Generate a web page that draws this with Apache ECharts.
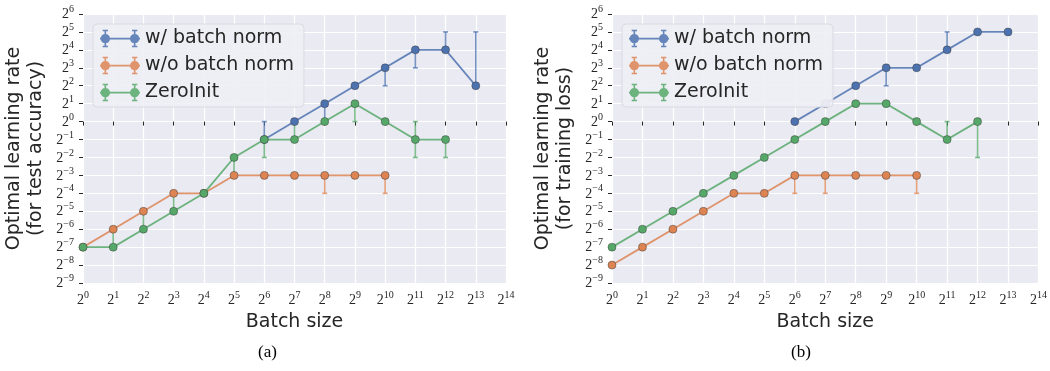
<!DOCTYPE html>
<html>
<head>
<meta charset="utf-8">
<script src="https://cdn.jsdelivr.net/npm/echarts@6/dist/echarts.min.js"></script>
<style>
  html, body { margin: 0; padding: 0; background: #fff; }
  #chart { width: 1050px; height: 371px; }
</style>
</head>
<body>
<div id="chart"></div>
<script>
// all values are base-2 exponents: batch size = 2^x, learning rate = 2^y
const seriesNames = ['w/ batch norm', 'w/o batch norm', 'ZeroInit']

// (a) test accuracy
const bnX_a = [6, 7, 8, 9, 10, 11, 12, 13]
const bnY_a = [-1, 0, 1, 2, 3, 4, 4, 2]
const noBnX_a = [0, 1, 2, 3, 4, 5, 6, 7, 8, 9, 10]
const noBnY_a = [-7, -6, -5, -4, -4, -3, -3, -3, -3, -3, -3]
const zeroX_a = [0, 1, 2, 3, 4, 5, 6, 7, 8, 9, 10, 11, 12]
const zeroY_a = [-7, -7, -6, -5, -4, -2, -1, -1, 0, 1, 0, -1, -1]
// error bars: [x, low, high]
const bnErr_a = [[6, -1, 0], [8, 0, 1], [10, 2, 3], [11, 3, 4], [12, 4, 5], [13, 2, 5]]
const noBnErr_a = [[8, -4, -3], [10, -4, -3]]
const zeroErr_a = [[1, -7, -6], [2, -6, -5], [3, -5, -4], [5, -3, -2], [6, -2, -1], [7, -1, 0], [9, 0, 1], [11, -2, 0], [12, -2, -1]]

// (b) training loss
const bnX_b = [6, 7, 8, 9, 10, 11, 12, 13]
const bnY_b = [0, 1, 2, 3, 3, 4, 5, 5]
const noBnX_b = [0, 1, 2, 3, 4, 5, 6, 7, 8, 9, 10]
const noBnY_b = [-8, -7, -6, -5, -4, -4, -3, -3, -3, -3, -3]
const zeroX_b = [0, 1, 2, 3, 4, 5, 6, 7, 8, 9, 10, 11, 12]
const zeroY_b = [-7, -6, -5, -4, -3, -2, -1, 0, 1, 1, 0, -1, 0]
const bnErr_b = [[9, 2, 3], [11, 4, 5]]
const noBnErr_b = [[6, -4, -3], [7, -4, -3], [10, -4, -3]]
const zeroErr_b = [[11, -1, 0], [12, -2, 0]]

const colors = ['#4C72B0', '#DD8452', '#55A868']
const textColor = '#262626'

const zip = (xs, ys) => xs.map((x, i) => [x, ys[i]])

const powLabel = v => `{b|2}{s|${v < 0 ? '\u2212' + (-v) : v}}`
const powRich = {
  b: { fontFamily: 'Liberation Serif', fontSize: 14, color: textColor, lineHeight: 15, verticalAlign: 'bottom' },
  s: { fontFamily: 'Liberation Serif', fontSize: 10, color: textColor, lineHeight: 10, verticalAlign: 'top', padding: [-2, 0, 0, 0] }
}

// legend icon: line with two markers carrying error bars
const legendIcon = 'path://' +
  'M0 14 h60 v2.4 h-60 z ' +
  'M6.8 2 h2.4 v26 h-2.4 z M50.8 2 h2.4 v26 h-2.4 z ' +
  'M4 2 h8 v2 h-8 z M4 26 h8 v2 h-8 z M48 2 h8 v2 h-8 z M48 26 h8 v2 h-8 z ' +
  'M1 15.2 a7 7 0 1 1 14 0 a7 7 0 1 1 -14 0 z ' +
  'M45 15.2 a7 7 0 1 1 14 0 a7 7 0 1 1 -14 0 z'

const renderErr = color => (params, api) => {
  const top = api.coord([api.value(0), api.value(2)])
  const bot = api.coord([api.value(0), api.value(1)])
  const style = { stroke: color, lineWidth: 1.6, opacity: 0.75 }
  return {
    type: 'group',
    children: [
      { type: 'line', shape: { x1: top[0], y1: top[1], x2: bot[0], y2: bot[1] }, style },
      { type: 'line', shape: { x1: top[0] - 2.5, y1: top[1], x2: top[0] + 2.5, y2: top[1] }, style },
      { type: 'line', shape: { x1: bot[0] - 2.5, y1: bot[1], x2: bot[0] + 2.5, y2: bot[1] }, style }
    ]
  }
}

const makeAxes = (idx, yName) => {
  const xAxis = {
    type: 'value', gridIndex: idx, min: 0, max: 14, interval: 1,
    name: 'Batch size', nameLocation: 'middle', nameGap: 30,
    nameTextStyle: { fontFamily: 'DejaVu Sans', fontSize: 19, color: textColor },
    axisLine: { show: false },
    axisTick: { show: true, length: 4, lineStyle: { color: textColor } },
    axisLabel: { formatter: powLabel, rich: powRich, margin: 9, showMinLabel: true, showMaxLabel: true, hideOverlap: false },
    splitLine: { show: true, lineStyle: { color: '#ffffff', width: 1.2 } }
  }
  const yAxis = {
    type: 'value', gridIndex: idx, min: -9, max: 6, interval: 1,
    name: yName, nameLocation: 'middle', nameGap: 36, nameRotate: 90,
    nameTextStyle: { fontFamily: 'DejaVu Sans', fontSize: 19, color: textColor, lineHeight: 22 },
    axisLine: { show: false },
    axisTick: { show: true, length: 4, lineStyle: { color: textColor } },
    axisLabel: { formatter: powLabel, rich: powRich, margin: 9, showMinLabel: true, showMaxLabel: true, hideOverlap: false },
    splitLine: { show: true, lineStyle: { color: '#ffffff', width: 1.2 } }
  }
  return [xAxis, yAxis]
}

const lineSeries = (name, data, color, idx, z) => ({
  name, type: 'line', xAxisIndex: idx, yAxisIndex: idx, data,
  symbol: 'circle', symbolSize: 8, z,
  lineStyle: { color, width: 1.8, opacity: 0.85 },
  itemStyle: { color, borderColor: 'rgba(60,60,60,0.8)', borderWidth: 0.6 },
  emphasis: { disabled: true }
})

const errSeries = (name, data, color, idx) => ({
  name, type: 'custom', xAxisIndex: idx, yAxisIndex: idx, data,
  encode: { x: 0, y: [1, 2] }, z: 1,
  renderItem: renderErr(color)
})

const legendFor = (left) => ({
  data: seriesNames, orient: 'vertical', left, top: 24,
  icon: legendIcon, itemWidth: 40, itemHeight: 20, itemGap: 8, itemTextGap: 16,
  itemStyle: { borderWidth: 0, opacity: 0.85 },
  lineStyle: { width: 0 },
  textStyle: { fontFamily: 'DejaVu Sans', fontSize: 19, color: textColor },
  backgroundColor: 'rgba(238,238,245,0.9)', borderColor: '#dadae2', borderWidth: 1, borderRadius: 4,
  padding: [5, 10, 5, 7]
})

const [xa, ya] = makeAxes(0, 'Optimal learning rate\n(for test accuracy)')
const [xb, yb] = makeAxes(1, 'Optimal learning rate\n(for training loss)')

// the w/ batch norm point at 2^7 in (b) is drawn faded
const bnData_b = zip(bnX_b, bnY_b).map(p => p[0] === 7
  ? { value: p, itemStyle: { color: '#a9bad8' } } : p)

const option = {
  animation: false,
  color: colors,
  grid: [
    { left: 83, right: 544, top: 14, bottom: 88, show: true, backgroundColor: '#EAEAF2', borderWidth: 0 },
    { left: 612, right: 10, top: 14, bottom: 88, show: true, backgroundColor: '#EAEAF2', borderWidth: 0 }
  ],
  xAxis: [xa, xb],
  yAxis: [ya, yb],
  legend: [legendFor(93), legendFor(622)],
  graphic: [
    { type: 'text', left: 258, top: 344, style: { text: '(a)', fontFamily: 'Liberation Serif', fontSize: 17, fill: '#000' } },
    { type: 'text', left: 791, top: 344, style: { text: '(b)', fontFamily: 'Liberation Serif', fontSize: 17, fill: '#000' } }
  ],
  series: [
    errSeries('bn-err-a', bnErr_a, colors[0], 0),
    errSeries('nobn-err-a', noBnErr_a, colors[1], 0),
    errSeries('zero-err-a', zeroErr_a, colors[2], 0),
    lineSeries(seriesNames[0], zip(bnX_a, bnY_a), colors[0], 0, 3),
    lineSeries(seriesNames[1], zip(noBnX_a, noBnY_a), colors[1], 0, 4),
    lineSeries(seriesNames[2], zip(zeroX_a, zeroY_a), colors[2], 0, 5),
    errSeries('bn-err-b', bnErr_b, colors[0], 1),
    errSeries('nobn-err-b', noBnErr_b, colors[1], 1),
    errSeries('zero-err-b', zeroErr_b, colors[2], 1),
    lineSeries(seriesNames[0], bnData_b, colors[0], 1, 3),
    lineSeries(seriesNames[1], zip(noBnX_b, noBnY_b), colors[1], 1, 4),
    lineSeries(seriesNames[2], zip(zeroX_b, zeroY_b), colors[2], 1, 5)
  ]
}

const chart = echarts.init(document.getElementById('chart'))
chart.setOption(option)
window.addEventListener('resize', () => chart.resize())
</script>
</body>
</html>
